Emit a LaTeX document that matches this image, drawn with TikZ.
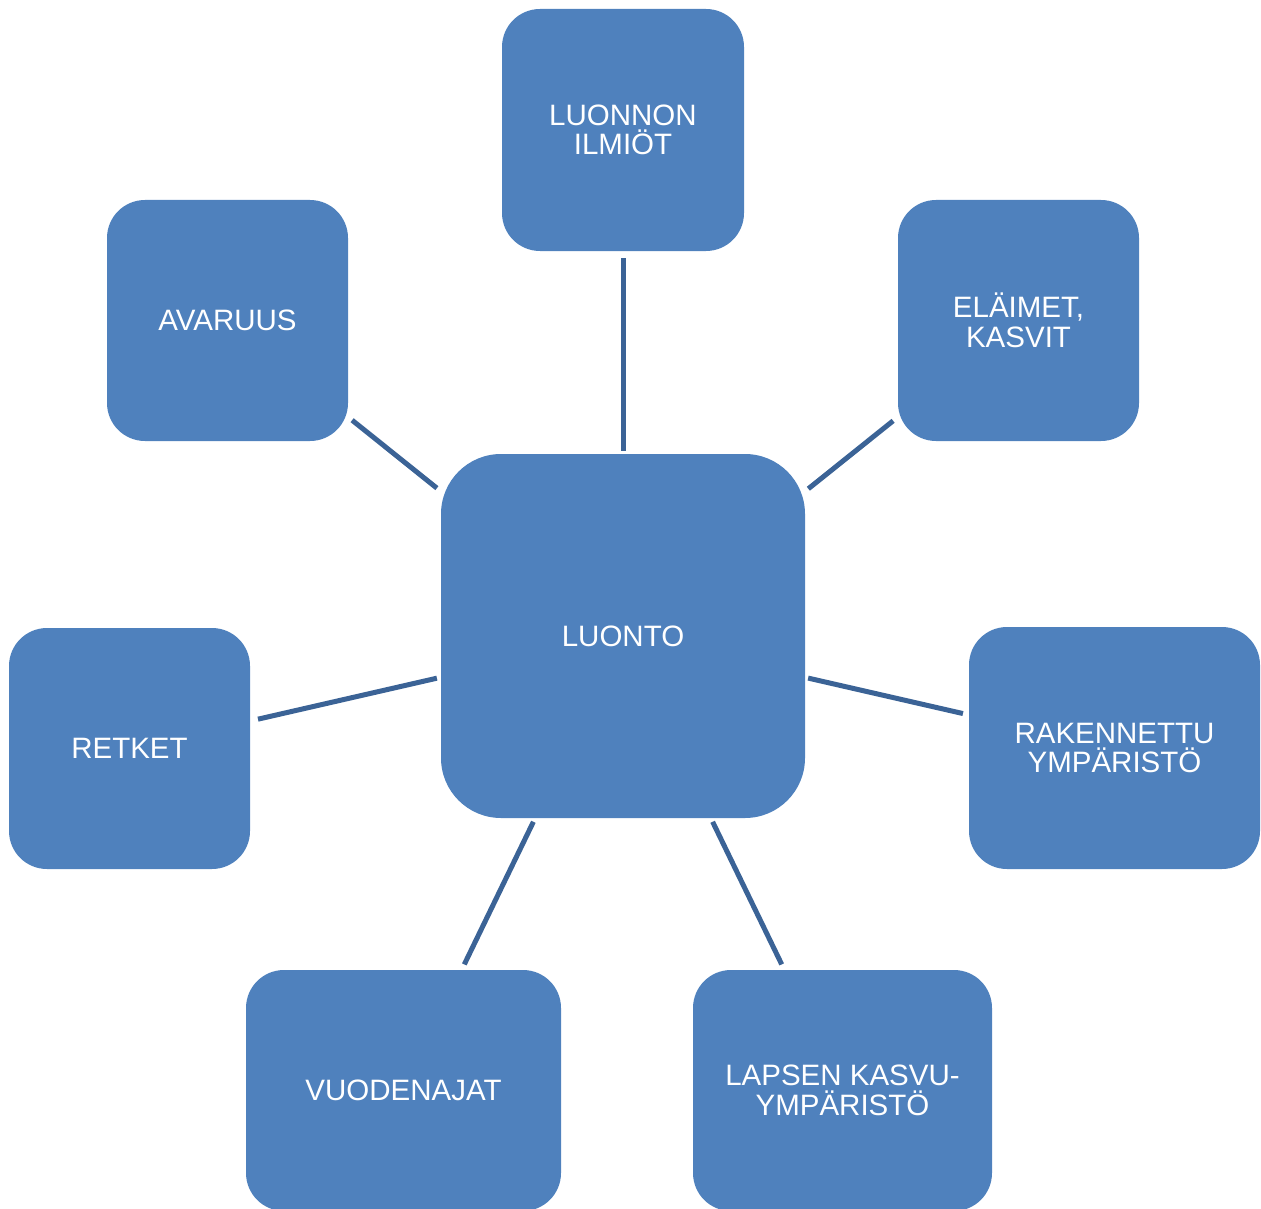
\documentclass[tikz,border=0pt]{standalone}
\usepackage{fontspec}
\setmainfont{Liberation Sans}
\definecolor{boxfill}{HTML}{4F81BD}
\definecolor{linecol}{HTML}{3B6396}
\begin{document}
\begin{tikzpicture}[x=1pt,y=-1pt,
  box/.style={fill=boxfill, draw=none, rounded corners=38pt, inner sep=0pt,
    text=white, align=center, font=\fontsize{29.5}{29.5}\selectfont,
    minimum width=241pt, minimum height=241pt},
  bigbox/.style={box, rounded corners=60pt, minimum width=364pt, minimum height=364pt},
  conn/.style={draw=linecol, line width=5pt, shorten <=6pt, shorten >=4pt}]
\useasboundingbox (0,0) rectangle (1261,1209);
\clip (0,0) rectangle (1261,1209);
\node[bigbox] (luonto) at (623,636) {LUONTO};
\node[box, minimum width=242pt, minimum height=242pt] (ilmiot) at (623,130) {LUONNON\\ILMIÖT};
\node[box] (avaruus) at (227.5,320.5) {AVARUUS};
\node[box] (elaimet) at (1018.5,320.5) {ELÄIMET,\\KASVIT};
\node[box] (retket) at (129.5,748.5) {RETKET};
\node[box, minimum width=291pt, minimum height=242pt] (rakennettu) at (1114.5,748) {RAKENNETTU\\YMPÄRISTÖ};
\node[box, minimum width=315pt] (vuodenajat) at (403.5,1090.5) {VUODENAJAT};
\node[box, minimum width=299pt] (lapsen) at (842.5,1090.5) {LAPSEN KASVU-\\YMPÄRISTÖ};
\draw[conn, shorten <=7pt, shorten >=3pt] (ilmiot) -- (luonto);
\draw[conn, shorten <=5pt, shorten >=5pt] (avaruus) -- (luonto);
\draw[conn] (elaimet) -- (luonto);
\draw[conn, shorten <=8pt] (retket) -- (luonto);
\draw[conn, shorten >=3pt] (rakennettu) -- (luonto);
\draw[conn] (vuodenajat) -- (luonto);
\draw[conn] (lapsen) -- (luonto);
\end{tikzpicture}
\end{document}
